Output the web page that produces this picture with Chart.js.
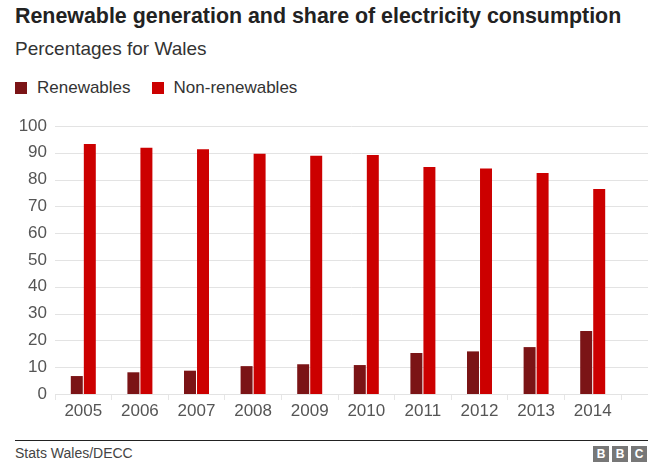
<!DOCTYPE html>
<html>
<head>
<meta charset="utf-8">
<script src="https://cdn.jsdelivr.net/npm/chart.js@4"></script>
<style>
  body { margin: 0; background: #fff; font-family: "Liberation Sans", Arial, sans-serif; }
  #wrap { position: relative; width: 660px; height: 470px; overflow: hidden; }
  #title { position: absolute; left: 15px; top: 4px; font-size: 21.4px; font-weight: bold; color: #222; white-space: nowrap; }
  #subtitle { position: absolute; left: 15px; top: 38px; font-size: 19px; color: #333; }
  #legend { position: absolute; left: 15px; top: 78px; font-size: 17px; color: #333; display: flex; }
  .item { display: flex; align-items: center; margin-right: 21px; }
  .box { width: 12px; height: 12px; margin-right: 10px; }
  #chartBox { position: absolute; left: 0; top: 110px; width: 660px; height: 320px; }
  #rule { position: absolute; left: 15px; top: 440px; width: 633px; height: 1px; background: #222; }
  #source { position: absolute; left: 15px; top: 445px; font-size: 14px; color: #444; }
  #bbc { position: absolute; left: 593px; top: 446px; display: flex; }
  #bbc span { width: 16px; height: 16px; margin-left: 3px; background: #777; color: #fff; font-size: 12px; font-weight: bold; text-align: center; line-height: 16px; }
</style>
</head>
<body>
<div id="wrap">
  <div id="title">Renewable generation and share of electricity consumption</div>
  <div id="subtitle">Percentages for Wales</div>
  <div id="legend"></div>
  <div id="chartBox"><canvas id="windChart"></canvas></div>
  <div id="rule"></div>
  <div id="source">Stats Wales/DECC</div>
  <div id="bbc"><span style="margin-left:0">B</span><span>B</span><span>C</span></div>
</div>
<script>
const years = ['2005', '2006', '2007', '2008', '2009', '2010', '2011', '2012', '2013', '2014'];
const renewables = [6.7, 8.1, 8.7, 10.4, 11.1, 10.8, 15.3, 15.9, 17.5, 23.5];
const nonRenewables = [93.3, 91.9, 91.3, 89.6, 88.9, 89.2, 84.7, 84.1, 82.5, 76.5];
const yTicks = [0, 10, 20, 30, 40, 50, 60, 70, 80, 90, 100];

const seriesColors = ['#7b1416', '#cc0000'];
const seriesNames = ['Renewables', 'Non-renewables'];

// legend in html
const legend = document.getElementById('legend');
seriesNames.forEach((name, i) => {
  const item = document.createElement('div');
  item.className = 'item';
  item.innerHTML = '<div class="box" style="background:' + seriesColors[i] + '"></div>' + name;
  legend.appendChild(item);
});

// horizontal gridlines run a bit past the last category
const wideGrid = {
  id: 'wideGrid',
  beforeDatasetsDraw(chart) {
    const { ctx, chartArea, scales } = chart;
    ctx.save();
    ctx.strokeStyle = '#e3e3e3';
    ctx.lineWidth = 1;
    yTicks.forEach(v => {
      const y = Math.round(scales.y.getPixelForValue(v)) + 0.5;
      ctx.beginPath();
      ctx.moveTo(chartArea.left, y);
      ctx.lineTo(648, y);
      ctx.stroke();
    });
    ctx.restore();
  }
};

const ctx = document.getElementById('windChart').getContext('2d');
new Chart(ctx, {
  type: 'bar',
  data: {
    labels: years,
    datasets: [
      { label: seriesNames[0], data: renewables, backgroundColor: seriesColors[0] },
      { label: seriesNames[1], data: nonRenewables, backgroundColor: seriesColors[1] }
    ]
  },
  options: {
    responsive: true,
    maintainAspectRatio: false,
    animation: false,
    layout: { padding: { top: 16, right: 39, left: 0, bottom: 0 } },
    datasets: { bar: { categoryPercentage: 0.46, barPercentage: 0.92 } },
    scales: {
      x: {
        grid: { offset: true, drawOnChartArea: false, color: '#e6e6e6', tickLength: 6 },
        border: { display: false },
        ticks: { color: '#555', font: { family: 'Liberation Sans', size: 17 }, padding: 1 },
        afterFit(scale) { scale.height = 36; }
      },
      y: {
        min: 0,
        max: 100,
        afterBuildTicks(scale) { scale.ticks = yTicks.map(v => ({ value: v })); },
        grid: { display: false },
        border: { display: false },
        ticks: { color: '#555', font: { family: 'Liberation Sans', size: 17 }, padding: 0 },
        afterFit(scale) { scale.width = 55; }
      }
    },
    plugins: {
      legend: { display: false },
      tooltip: { enabled: false }
    }
  },
  plugins: [wideGrid]
});
</script>
</body>
</html>
